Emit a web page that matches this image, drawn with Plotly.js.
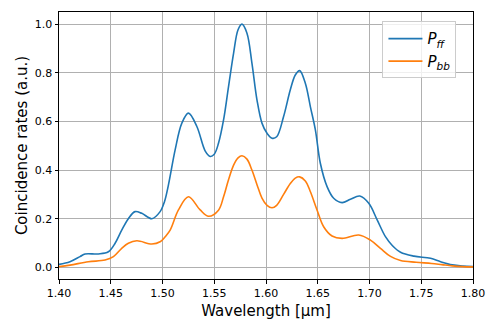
<!DOCTYPE html>
<html>
<head>
<meta charset="utf-8">
<script src="https://cdn.plot.ly/plotly-3.0.1.min.js"></script>
<style>
  html, body { margin: 0; padding: 0; background: white; }
  #chart { width: 498px; height: 332px; }
</style>
</head>
<body>
<div id="chart"></div>
<script>
// wavelength samples (um) and values
const wlFF = [1.400, 1.4106, 1.4203, 1.4252, 1.4380, 1.4477, 1.4542, 1.4606, 1.4670, 1.4735,
  1.4800, 1.4897, 1.4977, 1.5019, 1.5058, 1.5122, 1.5187, 1.5251, 1.5332, 1.5413,
  1.5461, 1.5500, 1.5541, 1.5590, 1.5638, 1.5687, 1.5730, 1.5768, 1.5816, 1.5864,
  1.5913, 1.5961, 1.6010, 1.6058, 1.6103, 1.6170, 1.6235, 1.6283, 1.6325, 1.6380,
  1.6429, 1.6477, 1.6525, 1.6590, 1.6654, 1.6735, 1.6816, 1.6906, 1.6993, 1.7074,
  1.7154, 1.7220, 1.7300, 1.7430, 1.7590, 1.7687, 1.7800, 1.7900, 1.8000]
const pFF = [0.012, 0.023, 0.044, 0.055, 0.055, 0.064, 0.099, 0.153, 0.200, 0.229,
  0.222, 0.200, 0.229, 0.270, 0.340, 0.483, 0.593, 0.634, 0.579, 0.478,
  0.456, 0.465, 0.510, 0.606, 0.743, 0.881, 0.977, 1.000, 0.963, 0.840,
  0.688, 0.593, 0.551, 0.531, 0.537, 0.620, 0.730, 0.791, 0.809, 0.757,
  0.660, 0.565, 0.428, 0.332, 0.284, 0.266, 0.280, 0.293, 0.263, 0.195,
  0.126, 0.090, 0.062, 0.046, 0.037, 0.023, 0.010, 0.005, 0.003]

const wlBB = [1.400, 1.4106, 1.4284, 1.4445, 1.4526, 1.4606, 1.4670, 1.4752, 1.4897, 1.4977,
  1.5026, 1.5074, 1.5154, 1.5251, 1.5364, 1.5445, 1.5541, 1.5590, 1.5638, 1.5687,
  1.5730, 1.5768, 1.5816, 1.5864, 1.5913, 1.5961, 1.6010, 1.6058, 1.6103, 1.6170,
  1.6235, 1.6283, 1.6325, 1.6380, 1.6429, 1.6493, 1.6557, 1.6638, 1.6735, 1.6896,
  1.7009, 1.7106, 1.7203, 1.7300, 1.7450, 1.7600, 1.7700, 1.7800, 1.7900, 1.8000]
const pBB = [0.003, 0.009, 0.023, 0.030, 0.044, 0.078, 0.099, 0.109, 0.096, 0.105,
  0.126, 0.153, 0.236, 0.290, 0.236, 0.210, 0.235, 0.290, 0.360, 0.420,
  0.450, 0.459, 0.445, 0.400, 0.340, 0.285, 0.255, 0.245, 0.255, 0.300,
  0.345, 0.367, 0.372, 0.355, 0.311, 0.236, 0.167, 0.129, 0.119, 0.133,
  0.112, 0.078, 0.045, 0.028, 0.021, 0.016, 0.011, 0.006, 0.003, 0.002]

const font = 'DejaVu Sans, sans-serif'

let traces = [
  {
    x: wlFF, y: pFF, type: 'scatter', mode: 'lines',
    name: '<i>P</i><sub><i>ff</i></sub>',
    line: { color: '#1f77b4', width: 1.6, shape: 'spline', smoothing: 1 }
  },
  {
    x: wlBB, y: pBB, type: 'scatter', mode: 'lines',
    name: '<i>P</i><sub><i>bb</i></sub>',
    line: { color: '#ff7f0e', width: 1.6, shape: 'spline', smoothing: 1 }
  }
]

let axisCommon = {
  showline: true, mirror: true, linecolor: 'black', linewidth: 1,
  ticks: 'outside', ticklen: 3.5, tickcolor: 'black', tickwidth: 1,
  showgrid: true, gridcolor: '#b0b0b0', gridwidth: 1,
  zeroline: false,
  tickfont: { family: font, size: 11, color: 'black' }
}

let layout = {
  width: 498, height: 332,
  margin: { l: 59, r: 25, t: 12, b: 53 },
  paper_bgcolor: 'white', plot_bgcolor: 'white',
  font: { family: font, color: 'black' },
  xaxis: Object.assign({}, axisCommon, {
    range: [1.40, 1.80], tickvals: [1.40, 1.45, 1.50, 1.55, 1.60, 1.65, 1.70, 1.75, 1.80],
    tickformat: '.2f',
    title: { text: 'Wavelength [μm]', font: { family: font, size: 15 }, standoff: 6 }
  }),
  yaxis: Object.assign({}, axisCommon, {
    range: [-0.048, 1.05], tickvals: [0, 0.2, 0.4, 0.6, 0.8, 1.0],
    tickformat: '.1f',
    title: { text: 'Coincidence rates (a.u.)', font: { family: font, size: 15 }, standoff: 3 }
  }),
  showlegend: true,
  legend: {
    x: 0.96, y: 0.965, xanchor: 'right', yanchor: 'top',
    bgcolor: 'rgba(255,255,255,0.8)', bordercolor: '#cccccc', borderwidth: 1,
    font: { family: font, size: 15 },
    itemwidth: 34, tracegroupgap: 0
  }
}

Plotly.newPlot('chart', traces, layout, { displayModeBar: false, staticPlot: true })
</script>
</body>
</html>
